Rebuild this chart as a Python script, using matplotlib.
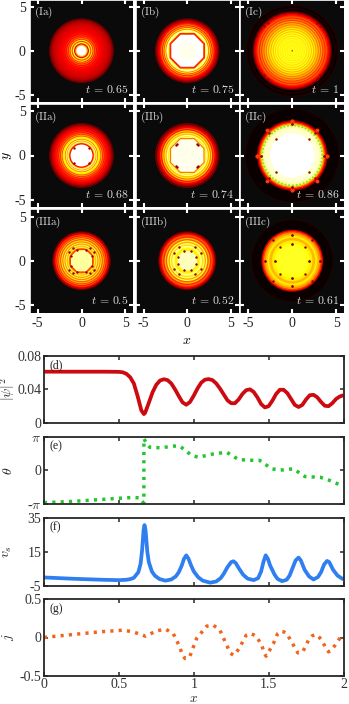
import numpy as np
import matplotlib
matplotlib.use("Agg")
import matplotlib.pyplot as plt
from matplotlib.patches import Circle, RegularPolygon

plt.rcParams['font.family'] = ['Liberation Serif', 'DejaVu Serif']
plt.rcParams['mathtext.fontset'] = 'cm'

W, H = 349, 704

# Panel labels and times
labels = ['(Ia)', '(Ib)', '(Ic)', '(IIa)', '(IIb)', '(IIc)', '(IIIa)', '(IIIb)', '(IIIc)']
times = ['0.65', '0.75', '1', '0.68', '0.74', '0.86', '0.5', '0.52', '0.61']

r_Ia = [3.70, 3.55, 3.40, 3.25, 3.10, 2.95, 2.80, 2.65, 2.50, 2.35, 2.20, 2.05, 1.95, 1.85, 1.75, 1.65, 1.55, 1.45, 1.35, 1.25, 1.12, 1.00, 0.85, 0.72, 0.58]
c_Ia = [0.13, 0.20, 0.24, 0.27, 0.29, 0.31, 0.32, 0.33, 0.34, 0.35, 0.37, 0.39, 0.36, 0.44, 0.37, 0.50, 0.40, 0.58, 0.42, 0.72, 0.45, 0.78, 0.34, 0.62, 1.00]
r_Ib = [3.70, 3.55, 3.40, 3.25, 3.12, 3.00, 2.90, 2.80, 2.70, 2.60, 2.50, 2.40, 2.30, 2.20]
c_Ib = [0.14, 0.22, 0.30, 0.36, 0.42, 0.55, 0.40, 0.62, 0.45, 0.74, 0.55, 0.85, 0.95, 0.80]
r_Ic = [5.25, 5.15, 4.85, 4.75, 4.50, 4.35, 4.20, 4.05, 3.92, 3.79, 3.66, 3.53, 3.40, 3.27, 3.14, 3.01, 2.88, 2.75, 2.62, 2.49, 2.36, 2.23, 2.10, 1.97, 1.84, 1.71, 1.58, 1.45, 1.32, 1.19, 1.06, 0.93, 0.80, 0.67, 0.54, 0.41, 0.28, 0.10]
c_Ic = [0.05, 0.00, 0.05, 0.00, 0.14, 0.28, 0.36, 0.42, 0.50, 0.42, 0.54, 0.45, 0.60, 0.50, 0.64, 0.55, 0.68, 0.60, 0.72, 0.63, 0.75, 0.66, 0.77, 0.69, 0.77, 0.70, 0.78, 0.72, 0.78, 0.72, 0.78, 0.73, 0.78, 0.73, 0.78, 0.74, 0.78, 0.45]
r_IIa = [3.70, 3.55, 3.40, 3.25, 3.10, 2.95, 2.85, 2.75, 2.65, 2.55, 2.45, 2.35, 2.25, 2.15, 2.00, 1.90, 1.80, 1.70, 1.60, 1.50, 1.40, 1.25]
c_IIa = [0.13, 0.20, 0.27, 0.32, 0.36, 0.40, 0.36, 0.46, 0.39, 0.52, 0.43, 0.62, 0.48, 0.72, 0.75, 0.55, 0.88, 0.60, 0.90, 0.70, 0.38, 1.00]
r_IIb = [3.70, 3.50, 3.30, 3.10, 3.00, 2.85, 2.75, 2.60, 2.50, 2.35, 2.20, 2.10]
c_IIb = [0.14, 0.24, 0.34, 0.50, 0.40, 0.70, 0.55, 0.76, 0.65, 0.90, 0.72, 0.85]
r_IIc = [5.35, 5.28, 4.00, 3.85, 3.70, 3.55, 3.40, 3.10, 2.50]
c_IIc = [0.05, 0.00, 0.22, 0.38, 0.55, 0.72, 0.90, 0.95, 1.00]
r_IIIa = [3.33, 3.20, 3.05, 2.95, 2.85, 2.75, 2.65, 2.55, 2.45, 2.30, 2.20, 2.05, 1.95, 1.80, 1.70, 1.55, 1.45]
c_IIIa = [0.14, 0.27, 0.36, 0.47, 0.38, 0.57, 0.44, 0.66, 0.50, 0.76, 0.56, 0.82, 0.60, 0.85, 0.65, 0.80, 0.55]
r_IIIb = [3.33, 3.20, 3.05, 2.90, 2.75, 2.60, 2.45, 2.30, 2.15, 2.00, 1.85, 1.70, 1.50]
c_IIIb = [0.14, 0.27, 0.38, 0.50, 0.42, 0.64, 0.50, 0.80, 0.62, 0.85, 0.70, 0.88, 0.80]
r_IIIc = [4.65, 4.58, 3.50, 3.35, 3.20, 3.00, 2.80, 2.60, 2.30, 2.00, 1.60]
c_IIIc = [0.05, 0.00, 0.30, 0.45, 0.58, 0.66, 0.72, 0.64, 0.72, 0.76, 0.78]

# Octagonal inner boundaries: circumradius, level (drawn over the rings)
oct_Ib = [(2.2, 0.42), (1.98, 1.0), (1.1, 0.98)]
oct_IIa = []
oct_IIb = [(2.15, 0.55), (2.0, 0.98)]
oct_IIIa = [(1.45, 0.45), (1.3, 0.9)]
oct_IIIb = [(1.5, 0.72), (1.2, 0.93)]

# Dark vortex spots, first quadrant offsets (mirrored in the four quadrants)
spots_Ic = [(3.2, 2.8), (2.8, 3.2)]
spots_IIa = [(0.87, 0.87)]
spots_IIb = [(1.25, 1.15), (1.15, 1.25)]
spots_IIc = [(0, 3.6), (3.6, 0), (2.6, 2.55), (1.85, 1.85)]
spots_IIIa = [(0.55, 1.25), (1.25, 0.55), (1.0, 1.4), (1.4, 1.0)]
spots_IIIb = [(0.4, 1.05), (1.05, 0.4), (0.9, 1.55), (1.55, 0.9)]
spots_IIIc = [(0, 1.93), (1.93, 0), (1.4, 1.5), (2.2, 2.3), (0, 2.9), (3.1, 0)]
bumps_IIc = [(0, 3.95), (3.95, 0), (2.85, 2.85)]

ring_r = [r_Ia, r_Ib, r_Ic, r_IIa, r_IIb, r_IIc, r_IIIa, r_IIIb, r_IIIc]
ring_c = [c_Ia, c_Ib, c_Ic, c_IIa, c_IIb, c_IIc, c_IIIa, c_IIIb, c_IIIc]
octs = [[], oct_Ib, [], oct_IIa, oct_IIb, [], oct_IIIa, oct_IIIb, []]
spots = [[], [], spots_Ic, spots_IIa, spots_IIb, spots_IIc, spots_IIIa, spots_IIIb, spots_IIIc]

# Line panels
x_d = [0, 0.1, 0.2, 0.3, 0.4, 0.5, 0.525, 0.55, 0.575, 0.6, 0.625, 0.65, 0.667, 0.675, 0.7, 0.725, 0.75, 0.775, 0.8, 0.825, 0.85, 0.875, 0.9, 0.925, 0.95, 0.975, 1.0, 1.025, 1.05, 1.075, 1.1, 1.125, 1.15, 1.175, 1.2, 1.225, 1.25, 1.275, 1.3, 1.325, 1.35, 1.375, 1.4, 1.425, 1.45, 1.475, 1.5, 1.525, 1.55, 1.575, 1.6, 1.625, 1.65, 1.675, 1.7, 1.725, 1.75, 1.775, 1.8, 1.825, 1.85, 1.875, 1.9, 1.925, 1.95, 1.975, 2.0]
density = [0.0610, 0.0610, 0.0610, 0.0610, 0.0610, 0.0608, 0.0603, 0.0585, 0.0545, 0.0470, 0.0320, 0.0150, 0.0106, 0.0120, 0.0240, 0.0365, 0.0455, 0.0505, 0.0520, 0.0510, 0.0470, 0.0400, 0.0320, 0.0245, 0.0217, 0.0250, 0.0325, 0.0410, 0.0480, 0.0515, 0.0522, 0.0510, 0.0470, 0.0410, 0.0340, 0.0270, 0.0235, 0.0235, 0.0280, 0.0345, 0.0390, 0.0400, 0.0370, 0.0305, 0.0225, 0.0185, 0.0200, 0.0265, 0.0345, 0.0395, 0.0395, 0.0355, 0.0285, 0.0215, 0.0190, 0.0215, 0.0280, 0.0330, 0.0335, 0.0305, 0.0250, 0.0205, 0.0200, 0.0235, 0.0285, 0.0315, 0.0330]

x_e = [0, 0.1, 0.2, 0.3, 0.4, 0.5, 0.6, 0.64, 0.66, 0.667, 0.667, 0.69, 0.707, 0.78, 0.863, 0.907, 0.985, 1.03, 1.13, 1.22, 1.30, 1.40, 1.44, 1.52, 1.576, 1.665, 1.744, 1.844, 1.90, 1.98, 2.0]
theta = [-3.05, -2.98, -2.92, -2.82, -2.73, -2.63, -2.55, -2.60, -2.98, -3.05, 3.01, 2.45, 2.20, 2.15, 2.31, 2.31, 1.44, 1.25, 1.57, 1.73, 1.03, 0.96, 0.96, 0.16, 0.03, 0.16, -0.58, -0.64, -0.90, -1.38, -1.42]

x_f = [0, 0.1, 0.2, 0.3, 0.4, 0.5, 0.55, 0.58, 0.6, 0.63, 0.645, 0.655, 0.665, 0.671, 0.678, 0.69, 0.70, 0.72, 0.74, 0.77, 0.81, 0.85, 0.88, 0.90, 0.92, 0.935, 0.95, 0.965, 0.98, 1.0, 1.03, 1.06, 1.11, 1.15, 1.18, 1.2, 1.225, 1.25, 1.265, 1.28, 1.3, 1.33, 1.36, 1.40, 1.43, 1.45, 1.465, 1.48, 1.495, 1.51, 1.54, 1.56, 1.59, 1.62, 1.64, 1.66, 1.68, 1.70, 1.715, 1.74, 1.77, 1.80, 1.83, 1.85, 1.87, 1.89, 1.905, 1.93, 1.96, 2.0]
v_s = [-0.1, -0.5, -0.9, -1.2, -1.5, -1.7, -1.5, -1.0, -0.3, 3, 8, 16, 28, 31, 28, 15, 9, 3.5, 1, -1, -2, -1.3, 0.5, 3, 7, 11, 13, 11, 7.5, 3.5, 0, -2, -3.2, -2.5, -0.5, 2, 6, 9, 9.5, 8.5, 5.5, 1.5, -0.8, -1.7, -0.5, 3.5, 9, 13, 11, 7, 1.5, -1, -2.3, -1.5, 1, 5.5, 10, 11.7, 10, 4.5, 0.5, -1.3, 0.2, 3, 7.5, 9.7, 9, 4.5, 1, -1.3]

x_g = [0, 0.105, 0.261, 0.372, 0.528, 0.595, 0.678, 0.751, 0.812, 0.863, 0.901, 0.92, 0.941, 0.96, 0.974, 1.019, 1.086, 1.130, 1.175, 1.220, 1.245, 1.264, 1.285, 1.309, 1.35, 1.376, 1.40, 1.420, 1.454, 1.47, 1.483, 1.50, 1.532, 1.56, 1.583, 1.60, 1.621, 1.666, 1.695, 1.728, 1.766, 1.79, 1.811, 1.83, 1.855, 1.88, 1.900, 1.92, 1.944, 1.989, 2.0]
current = [0, 0.022, 0.052, 0.074, 0.096, 0.074, 0.017, 0.087, 0.109, 0.052, -0.101, -0.20, -0.275, -0.27, -0.245, -0.013, 0.148, 0.162, 0.096, -0.101, -0.205, -0.231, -0.195, -0.122, 0.03, 0.052, 0.035, 0.009, -0.101, -0.20, -0.245, -0.19, -0.079, 0.05, 0.083, 0.075, 0.052, -0.101, -0.201, -0.188, -0.035, 0.02, 0.039, 0.02, -0.035, -0.13, -0.188, -0.16, -0.101, 0.03, 0.04]


def make_axes(left, top, right, bottom):
    # pixel box to figure fractions
    return fig.add_axes([left / W, 1 - bottom / H, (right - left) / W, (bottom - top) / H])


fig = plt.figure(figsize=(W / 100, H / 100), dpi=100)
cmap = plt.get_cmap('hot')

col_px = [(30, 133), (136, 238.5), (240.5, 344)]
row_px = [(-0.5, 102), (104, 207), (209, 312.5)]

# Maps
for i in range(9):
    row, col = i // 3, i % 3
    ax = make_axes(col_px[col][0], row_px[row][0], col_px[col][1], row_px[row][1])
    ax.set_facecolor('#0a0a0a')
    ax.set_xlim(-5.87, 5.87)
    ax.set_ylim(-5.85, 5.85)
    for r, c in zip(ring_r[i], ring_c[i]):
        ax.add_patch(Circle((0, 0), r, fc=cmap(c), ec='none', lw=0))
    for r, c in octs[i]:
        ax.add_patch(RegularPolygon((0, 0), 8, radius=r, orientation=np.pi / 8, fc=cmap(c), ec='none', lw=0))

    if i == 5:
        ax.add_patch(Circle((0, 0), 3.4, fill=False, ec='#7fe050', lw=1.3, ls=(0, (1, 1))))
        for bx, by in bumps_IIc:
            for sx in (1, -1):
                for sy in (1, -1):
                    ax.scatter(sx * bx, sy * by, s=8, color=cmap(0.45), lw=0, zorder=3)
    for dx, dy in spots[i]:
        for sx in (1, -1):
            for sy in (1, -1):
                ax.scatter(sx * dx, sy * dy, s=3, color=cmap(0.2), lw=0, zorder=4)

    ax.set_xticks([-5, 0, 5])
    ax.set_yticks([-5, 0, 5])
    ax.tick_params(direction='in', length=3.2, width=1.5, color='white', top=True, right=True,
                   labelsize=10, pad=3, labelcolor='#222222')
    ax.set_xticklabels(['-5', '0', '5'] if row == 2 else [])
    ax.set_yticklabels(['-5', '0', '5'] if col == 0 else [])
    for s in ax.spines.values():
        s.set_color('white')
        s.set_linewidth(0.6)
    ax.text(0.035, 0.945, r'$\mathrm{%s}$' % labels[i], transform=ax.transAxes, color='#dddddd',
            fontsize=8, ha='left', va='top')
    ax.text(0.955, 0.055, r'$t\,=\,%s$' % times[i], transform=ax.transAxes, color='#dddddd',
            fontsize=8.5, ha='right', va='bottom')

fig.text(8 / W, 1 - 156 / H, r'$y$', fontsize=10, rotation=90, ha='center', va='center')
fig.text(187 / W, 1 - 341 / H, r'$x$', fontsize=10, ha='center', va='center')


def line_panel(top, bottom, x, y, color, ylim, yticks, yticklabels, ylabel, tag, ls):
    ax = make_axes(44, top, 343.5, bottom)
    if ls == '-':
        ax.plot(x, y, color=color, lw=2.7, solid_capstyle='butt')
    else:
        ax.plot(x, y, color=color, lw=2.5, ls=ls)
    ax.set_xlim(0, 2)
    ax.set_ylim(*ylim)
    ax.set_xticks([0, 0.5, 1, 1.5, 2])
    ax.set_xticklabels([])
    ax.set_yticks(yticks)
    ax.set_yticklabels(yticklabels)
    ax.tick_params(direction='in', length=3.2, width=1.1, color='#262626', top=True, right=True,
                   labelsize=10, pad=2, labelcolor='#333333')
    for s in ax.spines.values():
        s.set_color('#262626')
        s.set_linewidth(1.3)
    ax.text(0.017, 0.95, tag, transform=ax.transAxes, fontsize=8.5, color='#222222', ha='left', va='top')
    fig.text(8 / W, 1 - (top + bottom) / 2 / H, ylabel, fontsize=10, rotation=90, ha='center', va='center',
             color='#222222')
    return ax


line_panel(355.7, 423, x_d, density, '#cc0a10', (0, 0.08), [0, 0.04, 0.08], ['0', '0.04', '0.08'],
           r'$|\psi|^2$', '(d)', '-')
line_panel(436.7, 504.3, x_e, theta, '#22c62e', (-3.2, 3.2), [-3.14, 0, 3.14], [r'-$\pi$', '0', r'$\pi$'],
           r'$\theta$', '(e)', (0, (0.9, 1.5)))
line_panel(518.3, 585.7, x_f, v_s, '#2f7ff0', (-5, 35), [-5, 15, 35], ['-5', '15', '35'],
           r'$v_s$', '(f)', '-')
ax_g = line_panel(599.3, 675.7, x_g, current, '#f2641e', (-0.5, 0.5), [-0.5, 0, 0.5], ['-0.5', '0', '0.5'],
                  r'$j$', '(g)', (0, (0.9, 1.5)))
ax_g.set_xticklabels(['0', '0.5', '1', '1.5', '2'])
ax_g.tick_params(axis='x', pad=1.5)
fig.text(193.5 / W, 1 - 699 / H, r'$x$', fontsize=9.5, ha='center', va='center', color='#222222')

fig.savefig('out.png', dpi=100)
